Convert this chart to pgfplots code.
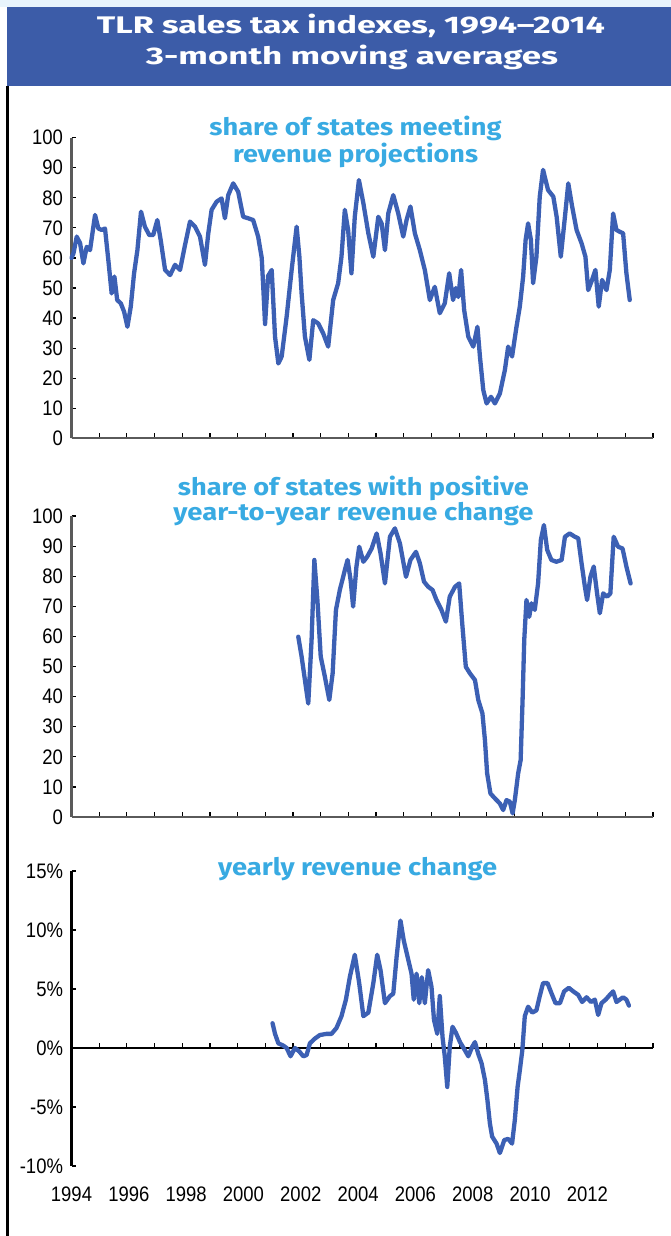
\documentclass[border=0pt]{standalone}
\usepackage{fontspec}
\usepackage{graphicx}
\usepackage{pgfplots}
\pgfplotsset{compat=1.18}
\setmainfont{Liberation Sans}
\newfontfamily\tickfont{Liberation Sans}[FakeStretch=0.88]
\newfontfamily\titlefont{Fira Sans}
\definecolor{linecol}{RGB}{60,96,180}
\definecolor{ttlcol}{RGB}{56,170,226}
\definecolor{bannercol}{RGB}{60,92,168}
\definecolor{stripcol}{RGB}{232,244,252}
\definecolor{axcol}{RGB}{90,90,90}

\pgfplotsset{
  panel/.style={
    scale only axis, width=581.5pt,
    xmin=1994, xmax=2015,
    axis lines=left,
    axis line style={-, line width=2.2pt, axcol},
    tick style={line width=1.2pt, black},
    major tick length=5pt,
    tick align=inside,
    xtick={1994,...,2015}, xticklabels={},
    ytick={0,10,...,100},
    yticklabels={0,10,20,30,40,50,60,70,80,90,100},
    ymin=0, ymax=100,
    y tick label style={font=\tickfont\fontsize{21}{21}\selectfont, xshift=-5pt},
    clip=false,
    anchor=south west,
  },
  series/.style={linecol, line width=4.3pt, line join=round, line cap=round, no markers}
}

\begin{document}
\begin{tikzpicture}[x=1pt,y=1pt]
\useasboundingbox (0,0) rectangle (671,-1236);
\fill[white] (0,0) rectangle (671,-1236);
\fill[stripcol] (0,0) rectangle (671,-7);
\fill[bannercol] (7,-7) rectangle (671,-86);
\draw[black, line width=2.5pt] (7.5,-86) -- (7.5,-1236);

\node[anchor=base, white, inner sep=0pt, font=\titlefont\bfseries\fontsize{24}{24}\selectfont] at (351,-33.3) {\resizebox{508pt}{\height}{TLR sales tax indexes, 1994–2014}};
\node[anchor=base, white, inner sep=0pt, font=\titlefont\bfseries\fontsize{24}{24}\selectfont] at (352,-65) {\resizebox{412pt}{\height}{3-month moving averages}};

% panel titles
\node[anchor=base, ttlcol, inner sep=0pt, font=\titlefont\bfseries\fontsize{24}{24}\selectfont] at (355.5,-135) {\resizebox{292pt}{\height}{share of states meeting}};
\node[anchor=base, ttlcol, inner sep=0pt, font=\titlefont\bfseries\fontsize{24}{24}\selectfont] at (355.5,-162) {\resizebox{245pt}{\height}{revenue projections}};
\node[anchor=base, ttlcol, inner sep=0pt, font=\titlefont\bfseries\fontsize{24}{24}\selectfont] at (353.4,-495) {\resizebox{351pt}{\height}{share of states with positive}};
\node[anchor=base, ttlcol, inner sep=0pt, font=\titlefont\bfseries\fontsize{24}{24}\selectfont] at (353.4,-520) {\resizebox{360pt}{\height}{year-to-year revenue change}};
\node[anchor=base, ttlcol, inner sep=0pt, font=\titlefont\bfseries\fontsize{24}{24}\selectfont] at (357.6,-875) {\resizebox{279pt}{\height}{yearly revenue change}};

% Panel 1
\begin{axis}[panel, height=300.6pt, at={(71.5pt,-438.3pt)}]
\addplot[series] table {
1994.00 60.0
1994.07 61.5
1994.19 67.1
1994.31 64.9
1994.43 58.2
1994.55 63.7
1994.67 62.6
1994.85 74.3
1994.97 69.8
1995.09 69.3
1995.21 69.8
1995.33 59.3
1995.45 48.2
1995.55 53.8
1995.65 46.0
1995.78 44.9
1995.90 42.1
1996.02 37.1
1996.14 43.8
1996.26 54.9
1996.38 62.6
1996.51 75.4
1996.65 70.4
1996.81 67.6
1996.95 67.6
1997.10 72.6
1997.22 66.0
1997.38 56.0
1997.56 54.3
1997.74 57.7
1997.92 56.0
1998.10 64.3
1998.28 72.1
1998.46 70.4
1998.64 67.1
1998.82 57.7
1998.94 68.2
1999.06 76.0
1999.24 78.7
1999.42 79.8
1999.54 73.2
1999.66 80.9
1999.84 84.8
2000.02 82.0
2000.20 73.7
2000.38 73.2
2000.56 72.6
2000.74 67.1
2000.87 60.0
2000.93 49.3
2000.99 38.0
2001.10 54.0
2001.23 56.0
2001.35 33.8
2001.47 24.9
2001.59 27.2
2001.77 40.5
2001.95 56.0
2002.13 70.4
2002.23 60.4
2002.31 48.2
2002.43 33.8
2002.59 26.1
2002.73 39.3
2002.91 38.2
2003.09 34.9
2003.27 30.5
2003.45 46.0
2003.63 51.6
2003.75 60.4
2003.87 76.0
2003.99 69.3
2004.11 54.9
2004.23 73.7
2004.38 85.9
2004.54 78.2
2004.72 68.2
2004.90 60.4
2005.08 73.7
2005.20 71.5
2005.32 62.6
2005.44 74.8
2005.62 80.9
2005.80 74.8
2005.98 67.1
2006.10 72.6
2006.24 77.1
2006.40 68.2
2006.58 62.6
2006.76 56.0
2006.94 46.0
2007.12 50.4
2007.30 41.6
2007.48 44.9
2007.64 54.9
2007.78 46.0
2007.88 50.0
2007.97 47.0
2008.07 56.0
2008.18 42.7
2008.33 33.8
2008.51 30.5
2008.66 37.1
2008.75 27.2
2008.87 16.1
2008.99 11.6
2009.15 13.8
2009.29 11.6
2009.47 14.9
2009.65 22.7
2009.77 30.5
2009.91 27.2
2010.07 37.1
2010.19 43.8
2010.31 53.8
2010.40 66.0
2010.49 71.5
2010.59 66.0
2010.67 51.6
2010.79 60.4
2010.91 80.4
2011.03 89.3
2011.21 82.6
2011.40 80.4
2011.52 73.7
2011.67 60.4
2011.82 73.7
2011.94 84.8
2012.08 77.1
2012.24 69.3
2012.42 64.9
2012.56 60.4
2012.66 49.3
2012.80 52.7
2012.92 56.0
2013.04 43.8
2013.16 52.7
2013.32 49.3
2013.44 56.0
2013.56 74.8
2013.68 69.3
2013.80 68.7
2013.92 68.2
2014.04 54.9
2014.16 46.0
};
\end{axis}

% Panel 2
\begin{axis}[panel, height=301pt, at={(71.5pt,-817pt)}]
\addplot[series] table {
2002.19 59.9
2002.31 53.3
2002.43 45.5
2002.55 37.7
2002.67 58.8
2002.77 85.4
2002.88 72.1
2003.00 53.3
2003.15 46.6
2003.31 38.9
2003.43 47.7
2003.55 68.8
2003.69 75.4
2003.87 82.0
2003.97 85.4
2004.08 78.7
2004.17 69.9
2004.29 83.2
2004.39 89.8
2004.54 84.8
2004.68 86.5
2004.84 89.2
2005.02 94.2
2005.16 87.6
2005.32 77.6
2005.50 93.1
2005.68 95.9
2005.86 90.9
2006.08 79.8
2006.24 85.4
2006.44 88.1
2006.58 84.3
2006.73 78.2
2006.88 76.5
2007.04 75.4
2007.18 72.1
2007.36 68.8
2007.52 64.9
2007.66 73.2
2007.85 76.5
2008.00 77.6
2008.12 63.2
2008.24 49.9
2008.39 47.7
2008.57 45.5
2008.69 38.9
2008.84 34.4
2008.93 25.6
2009.01 14.5
2009.13 7.8
2009.29 6.2
2009.47 4.5
2009.59 2.3
2009.71 5.6
2009.83 5.1
2009.93 1.2
2010.01 5.6
2010.13 14.5
2010.22 18.9
2010.29 38.9
2010.35 58.8
2010.43 72.1
2010.53 66.5
2010.61 71.0
2010.73 68.8
2010.85 77.6
2010.95 92.0
2011.06 97.0
2011.18 88.7
2011.33 85.4
2011.51 84.8
2011.70 85.4
2011.82 93.1
2011.99 94.2
2012.18 93.1
2012.30 92.6
2012.42 84.3
2012.54 76.5
2012.62 72.1
2012.74 79.8
2012.86 83.2
2012.98 74.3
2013.08 67.7
2013.20 74.3
2013.34 73.2
2013.46 74.3
2013.58 93.1
2013.74 89.8
2013.90 89.2
2014.04 83.2
2014.19 77.6
};
\end{axis}

% Panel 3
\begin{axis}[
  scale only axis, width=581.5pt, height=295pt,
  at={(71.5pt,-1166pt)}, anchor=south west,
  xmin=1994, xmax=2015, ymin=-10, ymax=15,
  axis x line=middle, axis y line=left,
  axis line style={-, line width=2.2pt, black},
  hide obscured x ticks=false, hide obscured y ticks=false,
  tick align=inside,
  major tick length=5pt, minor tick length=5pt,
  ytick={-10,-5,0,5,10,15},
  yticklabels={-10\%,-5\%,0\%,5\%,10\%,15\%},
  y tick label style={font=\tickfont\fontsize{21}{21}\selectfont, xshift=-5pt},
  ytick style={line width=1.2pt, black},
  xtick={1994,1996.07,1998.14,2000.21,2002.28,2004.35,2006.42,2008.49,2010.56,2012.63},
  xticklabels={1994,1996,1998,2000,2002,2004,2006,2008,2010,2012},
  major x tick style={draw=none},
  minor xtick={1994,...,2015},
  minor x tick style={line width=1.2pt, black},
  x tick label style={font=\tickfont\fontsize{21}{21}\selectfont, anchor=base, yshift=-153.7pt},
  clip=false,
]
\addplot[series] table {
2001.26 2.1
2001.35 1.2
2001.47 0.4
2001.65 0.2
2001.77 0.0
2001.91 -0.7
2002.07 0.0
2002.23 -0.3
2002.37 -0.7
2002.49 -0.6
2002.61 0.4
2002.79 0.8
2002.97 1.1
2003.21 1.2
2003.39 1.2
2003.57 1.7
2003.75 2.7
2003.91 4.1
2004.05 6.0
2004.23 7.9
2004.39 5.5
2004.54 2.7
2004.72 3.0
2004.90 5.5
2005.04 7.9
2005.16 6.6
2005.32 3.8
2005.50 4.4
2005.62 4.6
2005.74 7.7
2005.88 10.8
2006.00 9.1
2006.16 7.5
2006.28 6.3
2006.36 4.1
2006.46 6.3
2006.56 3.8
2006.65 6.0
2006.76 3.8
2006.88 6.6
2007.00 5.2
2007.09 2.4
2007.21 1.2
2007.30 4.4
2007.40 0.9
2007.48 -0.7
2007.57 -3.3
2007.66 0.1
2007.76 1.8
2007.88 1.3
2008.03 0.5
2008.21 -0.2
2008.33 -0.7
2008.47 0.1
2008.57 0.5
2008.69 -0.5
2008.81 -1.3
2008.93 -2.7
2009.02 -4.4
2009.11 -6.4
2009.19 -7.5
2009.35 -8.1
2009.47 -8.9
2009.63 -7.8
2009.77 -7.7
2009.91 -8.1
2010.01 -6.1
2010.11 -3.3
2010.19 -1.9
2010.28 -0.2
2010.37 2.7
2010.49 3.5
2010.64 3.0
2010.79 3.2
2010.91 4.4
2011.03 5.5
2011.19 5.5
2011.34 4.6
2011.48 3.8
2011.64 3.8
2011.79 4.8
2011.96 5.1
2012.12 4.8
2012.30 4.5
2012.44 3.9
2012.60 4.3
2012.76 3.9
2012.90 4.1
2013.02 2.8
2013.14 3.8
2013.29 4.1
2013.44 4.5
2013.56 4.8
2013.68 3.9
2013.80 4.1
2013.92 4.3
2014.04 4.1
2014.13 3.6
};
\end{axis}
\end{tikzpicture}
\end{document}
